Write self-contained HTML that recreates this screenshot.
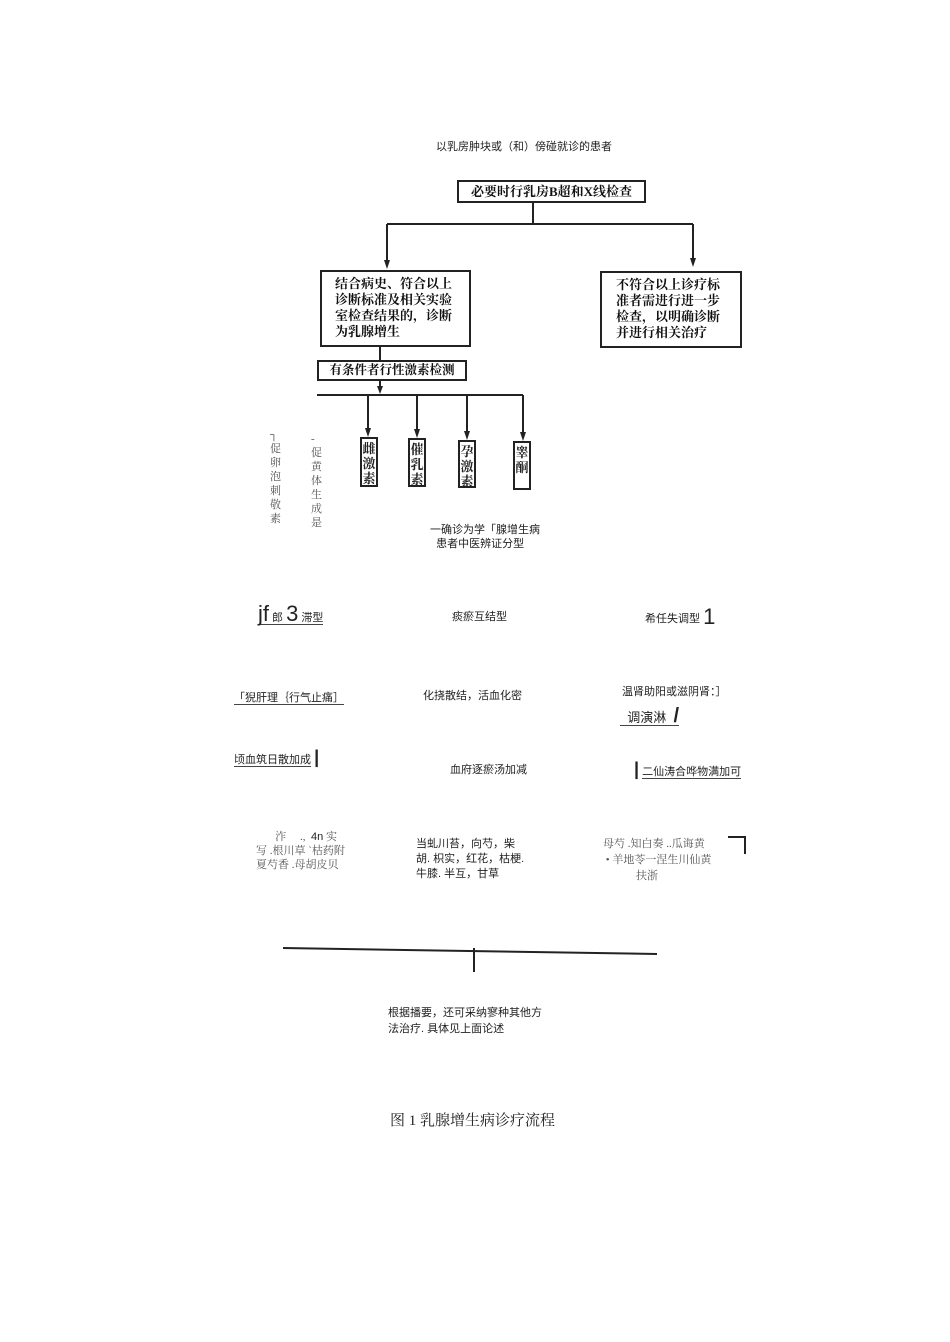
<!DOCTYPE html>
<html><head><meta charset="utf-8"><style>
body{margin:0;width:950px;height:1342px;background:#fff;position:relative;font-family:"Liberation Sans","Noto Sans CJK SC",sans-serif;color:#222;overflow:hidden}
.t{position:absolute;font-size:11px;white-space:nowrap;line-height:14px}
.b{position:absolute;border:2px solid #222;box-sizing:border-box;font-family:"Liberation Serif","Noto Serif CJK SC",serif;font-weight:bold;color:#111}
.v{position:absolute;font-family:"Liberation Serif","Noto Serif CJK SC",serif;font-size:11px;line-height:14px;width:12px;color:#555}
.sb{position:absolute;border:2px solid #222;box-sizing:border-box;font-family:"Liberation Serif","Noto Serif CJK SC",serif;font-weight:bold;font-size:13px;line-height:15px;text-align:center;padding-top:2px}
.u{border-bottom:1px solid #444}
.s{font-family:"Liberation Serif","Noto Serif CJK SC",serif;color:#555}
</style></head><body>
<svg width="950" height="1342" style="position:absolute;left:0;top:0">
<g stroke="#222" stroke-width="2" fill="none">
<line x1="533" y1="202" x2="533" y2="224"/>
<line x1="387" y1="224" x2="693" y2="224"/>
<line x1="387" y1="224" x2="387" y2="262"/>
<line x1="693" y1="224" x2="693" y2="260"/>
<line x1="380" y1="346" x2="380" y2="360"/>
<line x1="380" y1="380" x2="380" y2="388"/>
<line x1="317" y1="395" x2="523" y2="395"/>
<line x1="368" y1="395" x2="368" y2="430"/>
<line x1="417" y1="395" x2="417" y2="431"/>
<line x1="467" y1="395" x2="467" y2="433"/>
<line x1="523" y1="395" x2="523" y2="434"/>
<line x1="283" y1="948" x2="657" y2="954"/>
<line x1="474" y1="948" x2="474" y2="972"/>
</g>
<g fill="#222">
<path d="M384,260 L390,260 L387,269 Z"/>
<path d="M690,258 L696,258 L693,267 Z"/>
<path d="M377,386 L383,386 L380,394 Z"/>
<path d="M365,428 L371,428 L368,437 Z"/>
<path d="M414,429 L420,429 L417,438 Z"/>
<path d="M464,431 L470,431 L467,440 Z"/>
<path d="M520,432 L526,432 L523,441 Z"/>
</g>
</svg>
<div class="t" style="left:436px;top:140px">以乳房肿块或（和）傍碰就诊的患者</div>
<div class="b" style="left:457px;top:180px;width:189px;height:23px;font-size:13px;line-height:19px;text-align:center">必要时行乳房B超和X线检查</div>
<div class="b" style="left:320px;top:270px;width:151px;height:77px;font-size:13px;line-height:16px;padding:4px 0 0 13px">结合病史、符合以上<br>诊断标准及相关实验<br>室检查结果的，诊断<br>为乳腺增生</div>
<div class="b" style="left:600px;top:271px;width:142px;height:77px;font-size:13px;line-height:16px;padding:4px 0 0 14px">不符合以上诊疗标<br>准者需进行进一步<br>检查，以明确诊断<br>并进行相关治疗</div>
<div class="b" style="left:317px;top:360px;width:150px;height:21px;font-size:12.5px;line-height:17px;text-align:center">有条件者行性激素检测</div>
<div class="sb" style="left:360px;top:437px;width:18px;height:50px">雌激素</div>
<div class="sb" style="left:408px;top:438px;width:18px;height:49px">催乳素</div>
<div class="sb" style="left:458px;top:440px;width:18px;height:48px">孕激素</div>
<div class="sb" style="left:513px;top:441px;width:18px;height:49px">睾酮</div>
<div class="v" style="left:270px;top:428px">┐促卵泡刺敬素</div>
<div class="v" style="left:311px;top:432px">-促黄体生成是</div>
<div class="t" style="left:430px;top:523px">一确诊为学「腺增生病<br>&nbsp;&nbsp;患者中医辨证分型</div>
<div class="t" style="left:258px;top:607px"><span class="u"><span style="font-size:22px">jf</span> 郎 <span style="font-size:22px">3</span> 滞型</span></div>
<div class="t" style="left:452px;top:610px">痰瘀互结型</div>
<div class="t" style="left:645px;top:610px">希任失调型 <span style="font-size:22px;vertical-align:-2px">1</span></div>
<div class="t" style="left:234px;top:691px"><span class="u">「猊肝理｛行气止痛］</span></div>
<div class="t" style="left:423px;top:689px">化挠散结，活血化密</div>
<div class="t" style="left:622px;top:685px">温肾助阳或滋阴肾：］</div>
<div class="t" style="left:620px;top:709px;font-size:13px"><span class="u">&nbsp;&nbsp;调演淋&nbsp;&nbsp;<b style="font-size:20px">/</b></span></div>
<div class="t" style="left:234px;top:750px"><span class="u">顷血筑日散加成</span> <b style="font-size:18px">|</b></div>
<div class="t" style="left:450px;top:763px">血府逐瘀汤加减</div>
<div class="t" style="left:634px;top:762px"><b style="font-size:18px">|</b> <span class="u">二仙涛合哗物满加可</span></div>
<div class="t s" style="left:256px;top:830px;line-height:14px">&nbsp;&nbsp;&nbsp;&nbsp;&nbsp;&nbsp;&nbsp;泎&nbsp;&nbsp;&nbsp;&nbsp;&nbsp;.,&nbsp;&nbsp;<span style="font-family:'Liberation Sans';color:#222">4n</span> 实<br>写 .根川草 `枯药附<br>夏芍香 .母胡皮贝</div>
<div class="t" style="left:416px;top:837px;line-height:15px">当虬川苔，向芍，柴<br>胡. 枳实，红花，枯梗.<br>牛膝. 半互，甘草</div>
<div class="t s" style="left:603px;top:836px;line-height:16px">母芍 .知白奏 ..瓜诲黄<br>&nbsp;• 羊地苓一涅生川仙黄<br>&nbsp;&nbsp;&nbsp;&nbsp;&nbsp;&nbsp;&nbsp;&nbsp;&nbsp;&nbsp;&nbsp;&nbsp;扶浙</div>
<div style="position:absolute;left:728px;top:836px;width:16px;height:16px;border-top:2px solid #222;border-right:2px solid #222"></div>
<div class="t" style="left:388px;top:1005px;line-height:16px">根据播要，还可采纳寥种其他方<br>法治疗. 具体见上面论述</div>
<div class="t" style="left:390px;top:1112px;font-size:15px;font-family:'Liberation Serif','Noto Serif CJK SC',serif;line-height:18px">图 1 乳腺增生病诊疗流程</div>
</body></html>
